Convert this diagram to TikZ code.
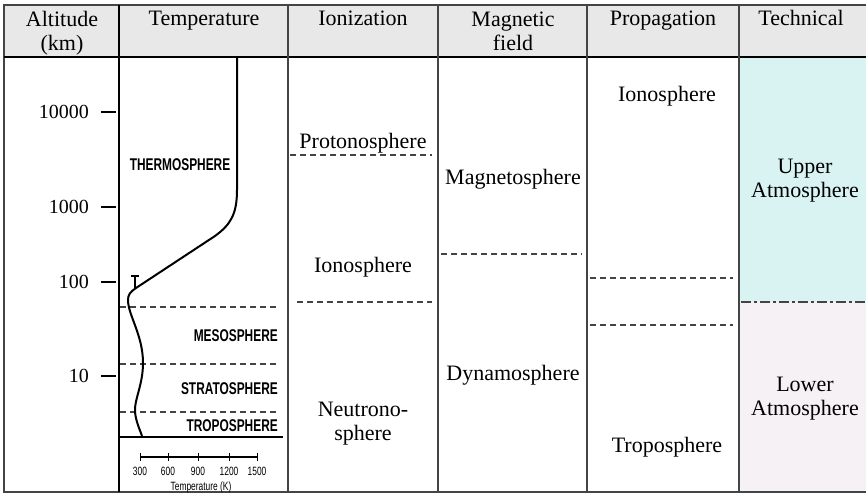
\documentclass[tikz,border=0pt]{standalone}
\usepackage{fontspec}
\setmainfont{Liberation Serif}
\newfontfamily\cond[FakeStretch=0.7]{Liberation Sans}
\definecolor{hdr}{HTML}{E8E8E8}
\definecolor{upcol}{HTML}{D9F3F2}
\definecolor{lowcol}{HTML}{F5F1F5}
\definecolor{grid}{HTML}{444444}
\tikzset{
  txt/.style={font=\fontsize{22}{24}\selectfont, align=center, inner sep=0pt},
  one/.style={font=\fontsize{22}{24}\selectfont, inner sep=0pt, anchor=base},
  num/.style={font=\fontsize{20}{24}\selectfont, inner sep=0pt},
  layer/.style={font=\cond\bfseries\fontsize{17}{19}\selectfont, inner sep=0pt},
  dashsep/.style={draw=grid, line width=1.4pt, dash pattern=on 6pt off 4pt},
  colsep/.style={draw=grid, line width=1.4pt},
  tick/.style={draw=black, line width=1.3pt},
  tinytxt/.style={font=\cond\fontsize{12}{13}\selectfont, inner sep=0pt}
}
\begin{document}
\begin{tikzpicture}[x=1pt,y=-1pt]
\useasboundingbox (0,0) rectangle (866,494);
% fills
\fill[hdr] (4,5) rectangle (866,57);
\fill[upcol] (739,57) rectangle (866,302);
\fill[lowcol] (739,302) rectangle (866,492);
% outer frame
\draw[colsep] (866,5) -- (4,5) -- (4,492) -- (866,492);
\draw[black, line width=2.2pt] (4,57) -- (866,57);
% column separators
\draw[black, line width=2pt] (119,5) -- (119,492);
\draw[colsep] (288,5) -- (288,492);
\draw[colsep] (438,5) -- (438,492);
\draw[colsep] (587,5) -- (587,492);
\draw[colsep] (739,5) -- (739,492);
% headers
\node[txt] (h1) at (62,33) {Altitude\\(km)};
\node[one] (h2) at (204,26) {Temperature};
\node[one] (h3) at (363,26) {Ionization};
\node[txt] (h4) at (513,31) {Magnetic\\field};
\node[one] (h5) at (663,26) {Propagation};
\node[one] (h6) at (801,26) {Technical};
% altitude axis
\foreach \v/\y/\n in {10000/112/a1, 1000/207/a2, 100/282/a3, 10/376/a4}{
  \node[num, anchor=east] (\n) at (89,\y) {\v};
  \draw[tick] (101,\y) -- (116,\y);
}
% temperature column
\draw[dashsep] (120,307) -- (278,307);
\draw[dashsep] (120,364) -- (278,364);
\draw[dashsep] (120,412) -- (278,412);
\draw[black, line width=1.6pt] (120,437) -- (283,437);
\node[layer] (thermo) at (180,165) {THERMOSPHERE};
\node[layer, anchor=east] (meso) at (278,336) {MESOSPHERE};
\node[layer, anchor=east] (strato) at (278,389) {STRATOSPHERE};
\node[layer, anchor=east] (tropo) at (278,426) {TROPOSPHERE};
\draw[black, line width=2pt, line join=round]
  (237,57) -- (237,190) .. controls (237,215) and (230,225) .. (215,236)
  -- (136,288) .. controls (130,292) and (128,295) .. (128,300)
  .. controls (128,315) and (143,335) .. (143,363)
  .. controls (143,385) and (134,400) .. (135,412)
  .. controls (136,422) and (140,430) .. (142,436);
\draw[black, line width=1.6pt] (135,276) -- (135,289);
\draw[black, line width=2pt] (131,276) -- (139,276);
% temperature scale
\draw[black, line width=1.2pt] (140,457) -- (257,457);
\foreach \x/\t/\n in {140/300/s1, 168/600/s2, 198/900/s3, 229/1200/s4, 257/1500/s5}{
  \draw[black, line width=1pt] (\x,453) -- (\x,461);
  \node[tinytxt] (\n) at (\x,471) {\t};
}
\node[tinytxt] (tk) at (201,487) {Temperature (K)};
% ionization column
\node[one] (proto) at (363,149) {Protonosphere};
\draw[dashsep] (290,155) -- (432,155);
\node[one] (iono1) at (363,272) {Ionosphere};
\draw[dashsep] (297,302) -- (432,302);
\node[txt] (neutro) at (363,424) {Neutrono-\\sphere};
% magnetic field column
\node[one] (magneto) at (513,185) {Magnetosphere};
\draw[dashsep] (441,254) -- (582,254);
\node[one] (dynamo) at (513,380) {Dynamosphere};
% propagation column
\node[one] (iono2) at (667,102) {Ionosphere};
\draw[dashsep] (590,278) -- (733,278);
\draw[dashsep] (590,325) -- (733,325);
\node[one] (tropo2) at (667,452) {Troposphere};
% technical column
\draw[draw=grid, line width=1.5pt, dash pattern=on 10pt off 3pt on 3pt off 3pt] (741,302) -- (866,302);
\node[txt] (upper) at (805,181) {Upper\\Atmosphere};
\node[txt] (lower) at (805,399) {Lower\\Atmosphere};
\end{tikzpicture}
\end{document}
